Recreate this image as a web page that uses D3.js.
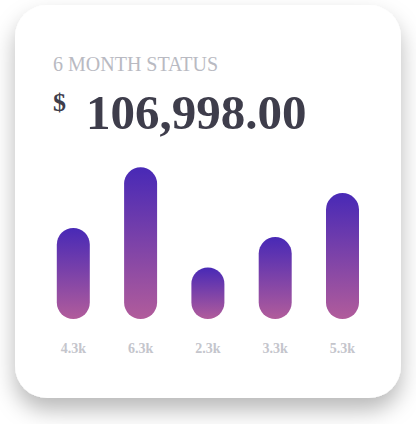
<!DOCTYPE html>
<html>
<head>
<meta charset="utf-8">
<script src="https://cdn.jsdelivr.net/npm/d3@7/dist/d3.min.js"></script>
<style>
html,body{margin:0;padding:0;background:#fff;}
svg{display:block;}
</style>
</head>
<body>
<div id="chart"></div>
<script>
const title = "6 MONTH STATUS";
const currency = "$";
const total = "106,998.00";
const labels = ["4.3k", "6.3k", "2.3k", "3.3k", "5.3k"];
const values = [60, 100, 34, 54, 83];

const W = 416, H = 424;
const svg = d3.select("#chart").append("svg").attr("width", W).attr("height", H);
const defs = svg.append("defs");

const f = defs.append("filter").attr("id", "shadow")
  .attr("x", "-20%").attr("y", "-20%").attr("width", "140%").attr("height", "150%");
f.append("feDropShadow").attr("dx", 0).attr("dy", 12).attr("stdDeviation", 11)
  .attr("flood-color", "#000").attr("flood-opacity", 0.28);

const g = defs.append("linearGradient").attr("id", "barGrad")
  .attr("x1", 0).attr("y1", 0).attr("x2", 0).attr("y2", 1);
g.append("stop").attr("offset", "0%").attr("stop-color", "#4829b6");
g.append("stop").attr("offset", "100%").attr("stop-color", "#b15c9b");

svg.append("rect").attr("x", 15).attr("y", 5).attr("width", 386).attr("height", 393)
  .attr("rx", 32).attr("ry", 32).attr("fill", "#fff").attr("filter", "url(#shadow)");

svg.append("text").attr("x", 53).attr("y", 71).text(title)
  .attr("font-family", "'Liberation Serif', 'Times New Roman', serif")
  .attr("font-size", 20).attr("fill", "#b9bac2");

svg.append("text").attr("x", 53).attr("y", 111).text(currency)
  .attr("font-family", "'Liberation Serif', 'Times New Roman', serif")
  .attr("font-weight", "bold").attr("font-size", 26).attr("fill", "#3e3d4b");

svg.append("text").attr("x", 86).attr("y", 128.5).text(total)
  .attr("font-family", "'Liberation Serif', 'Times New Roman', serif")
  .attr("font-weight", "bold").attr("font-size", 49).attr("fill", "#3e3d4b");

const x = d3.scalePoint().domain(labels).range([73.3, 342.5]);
const y = d3.scaleLinear().domain([0, 100]).range([319, 167.3]);
const bw = 33;

svg.append("g").selectAll("rect").data(values).join("rect")
  .attr("x", (d, i) => x(labels[i]) - bw / 2)
  .attr("y", d => y(d))
  .attr("width", bw)
  .attr("height", d => y(0) - y(d))
  .attr("rx", bw / 2).attr("ry", bw / 2)
  .attr("fill", "url(#barGrad)");

svg.append("g").selectAll("text").data(labels).join("text")
  .attr("x", d => x(d))
  .attr("y", 353)
  .attr("text-anchor", "middle")
  .attr("font-family", "'Liberation Serif', 'Times New Roman', serif")
  .attr("font-weight", "bold").attr("font-size", 14)
  .attr("fill", "#c4c5cc")
  .text(d => d);
</script>
</body>
</html>
